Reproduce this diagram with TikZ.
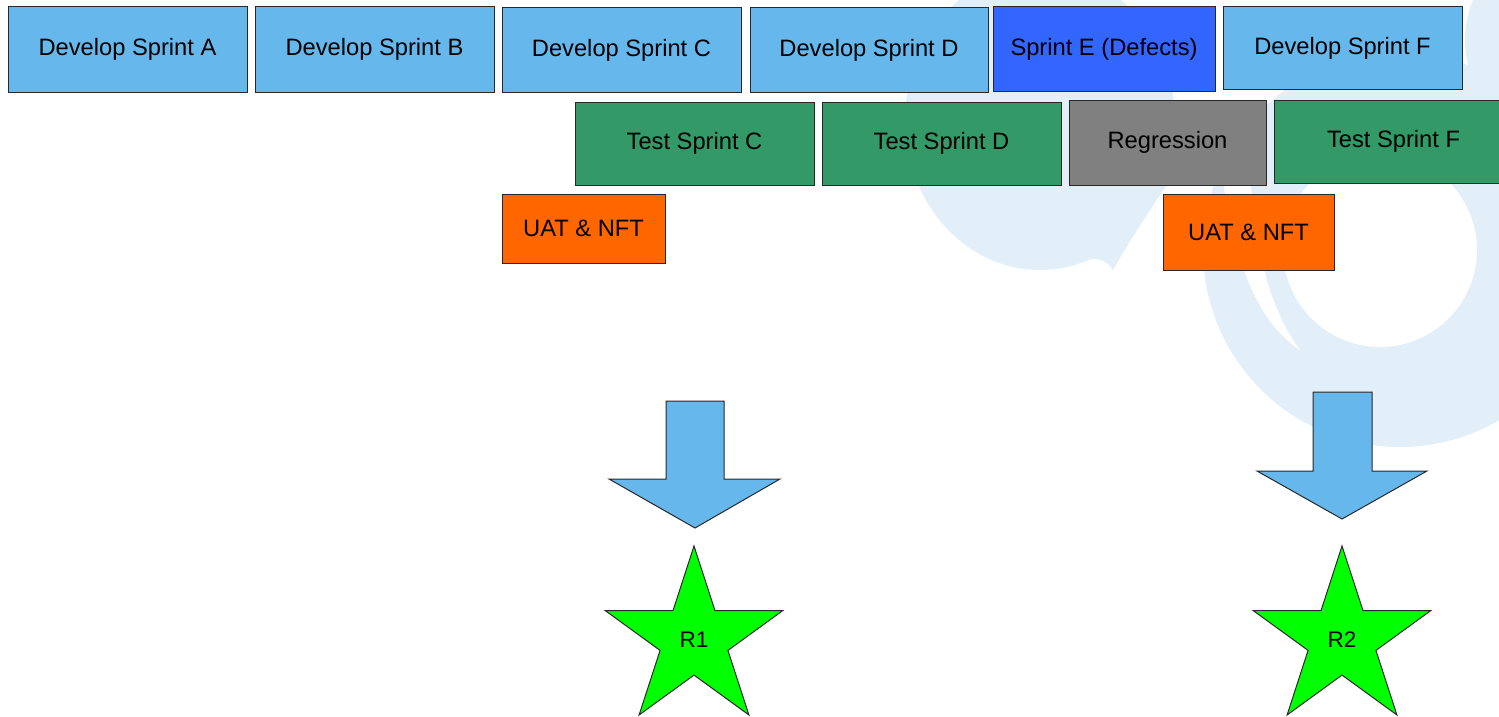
\documentclass[tikz,border=0pt]{standalone}
\usepackage{fontspec}
\setmainfont{Liberation Sans}
\usetikzlibrary{shapes.geometric}
\definecolor{devblue}{RGB}{102,184,236}
\definecolor{sprintblue}{RGB}{51,102,255}
\definecolor{testgreen}{RGB}{51,153,102}
\definecolor{reggray}{RGB}{128,128,128}
\definecolor{uatorange}{RGB}{255,102,0}
\definecolor{stargreen}{RGB}{0,255,0}
\definecolor{wm}{RGB}{226,239,248}
\definecolor{edge}{RGB}{40,40,40}
\begin{document}
\begin{tikzpicture}[x=1pt,y=-1pt,
  box/.style={draw=edge, line width=1pt, inner sep=0pt, font=\fontsize{23.7}{28}\selectfont},
  devbox/.style={box, fill=devblue, minimum width=239pt, minimum height=84pt},
  testbox/.style={box, fill=testgreen, minimum width=239pt, minimum height=83pt},
  uatbox/.style={box, fill=uatorange},
  bigarrow/.style={fill=devblue, draw=edge, line width=1pt},
  releasestar/.style={star, star points=5, star point ratio=2.618, minimum size=186.8pt, inner sep=0pt, draw=edge, line width=1pt, fill=stargreen, font=\fontsize{22.5}{26}\selectfont}]
\useasboundingbox (0,0) rectangle (1499,717);
\clip (0,0) rectangle (1499,717);
% watermark
\fill[wm] (1040,120) ellipse [x radius=135, y radius=150];
\fill[wm] (1040,268) .. controls (1080,262) and (1100,250) .. (1113,270) .. controls (1130,240) and (1150,210) .. (1166,186) -- (1100,150) -- cycle;
\fill[wm, even odd rule] (1400,250) circle [radius=197] (1380,250) circle [radius=97];
\fill[white] (1222,175) .. controls (1235,260) and (1255,320) .. (1300,350) .. controls (1270,310) and (1255,250) .. (1250,175) -- cycle;
\fill[wm] (1525,40) ellipse [x radius=60, y radius=80];
% row 1
\node[devbox, minimum height=85pt] (devA) at (127.5,49.5) {Develop Sprint A};
\node[devbox, minimum height=85pt] (devB) at (374.5,49.5) {Develop Sprint B};
\node[devbox] (devC) at (621.5,50) {Develop Sprint C};
\node[devbox, minimum width=238pt] (devD) at (869,50) {Develop Sprint D};
\node[box, fill=sprintblue, minimum width=222pt, minimum height=84pt] (sprE) at (1104,49) {Sprint E (Defects)};
\node[devbox, minimum height=82pt] (devF) at (1342.5,48) {Develop Sprint F};
% row 2
\node[testbox] (testC) at (694.5,143.5) {Test Sprint C};
\node[testbox] (testD) at (941.5,143.5) {Test Sprint D};
\node[box, fill=reggray, minimum width=197pt, minimum height=85pt] (regr) at (1167.5,142.5) {Regression};
\node[testbox] (testF) at (1393.5,141.5) {Test Sprint F};
% row 3
\node[uatbox, minimum width=163pt, minimum height=69pt] (uat1) at (583.5,228.5) {UAT \& NFT};
\node[uatbox, minimum width=171pt, minimum height=76pt] (uat2) at (1248.5,232) {UAT \& NFT};
% arrows
\draw[bigarrow] (666,401) -- (724,401) -- (724,479) -- (780,479) -- (695,528) -- (609,479) -- (666,479) -- cycle;
\draw[bigarrow] (1313,392) -- (1372,392) -- (1372,471) -- (1427,471) -- (1342,519) -- (1257,471) -- (1313,471) -- cycle;
% stars
\node[releasestar] (r1) at (694,639.4) {R1};
\node[releasestar] (r2) at (1342,639.4) {R2};
\end{tikzpicture}
\end{document}
